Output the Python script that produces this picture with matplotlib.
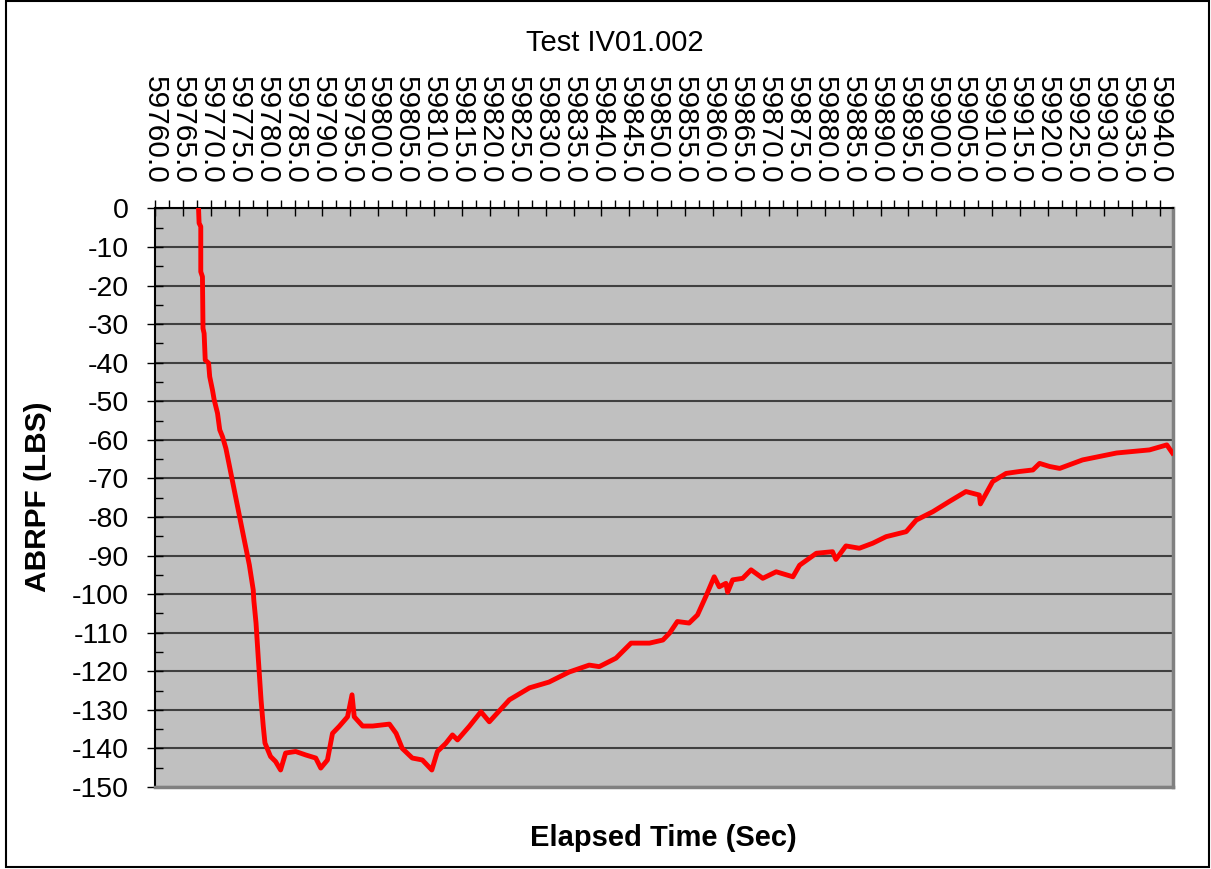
import matplotlib
matplotlib.use("Agg")
import matplotlib.pyplot as plt
from matplotlib.ticker import MultipleLocator, FormatStrFormatter
from matplotlib.patches import Rectangle

plt.rcParams['font.family'] = ['Liberation Sans', 'DejaVu Sans']
plt.rcParams['axes.unicode_minus'] = False

# elapsed time (sec) and ABRPF (lbs)
elapsed = [59767.8, 59767.9, 59768.2, 59768.2, 59768.5, 59768.6, 59768.8, 59769.0,
           59769.6, 59769.8, 59770.3, 59770.6, 59771.2, 59771.6, 59772.1, 59772.7,
           59773.3, 59774.2, 59775.1, 59776.0, 59776.9, 59777.6, 59777.7, 59778.1,
           59778.5, 59779.0, 59779.4, 59779.7, 59780.7, 59781.6, 59782.5, 59783.4,
           59785.2, 59787.0, 59788.8, 59789.7, 59790.9, 59791.8, 59793.0, 59794.5,
           59795.3, 59795.7, 59797.2, 59799.0, 59802.0, 59803.2, 59804.3, 59806.1,
           59807.9, 59809.6, 59810.6, 59812.1, 59813.3, 59814.2, 59816.3, 59818.4,
           59819.9, 59823.5, 59827.1, 59830.6, 59834.2, 59837.8, 59839.6, 59842.6,
           59845.3, 59848.6, 59851.0, 59852.2, 59853.6, 59855.7, 59857.2, 59858.7,
           59860.2, 59861.1, 59862.3, 59862.6, 59863.5, 59865.3, 59866.8, 59868.9,
           59871.3, 59874.3, 59875.5, 59878.5, 59881.4, 59882.0, 59883.8, 59886.2,
           59888.6, 59891.0, 59894.6, 59896.4, 59899.4, 59902.3, 59905.3, 59907.7,
           59907.9, 59910.1, 59912.5, 59914.9, 59917.3, 59918.5, 59920.3, 59922.1,
           59926.2, 59932.3, 59938.2, 59941.3, 59942.3]
abrpf = [0.0, -3.8, -4.7, -16.4, -17.7, -31.1, -32.4, -39.3,
         -40.1, -43.6, -47.1, -49.6, -53.1, -57.4, -59.2, -62.2,
         -66.5, -73.0, -79.5, -86.0, -92.4, -98.9, -101.5, -107.5,
         -116.5, -127.4, -134.3, -138.6, -142.1, -143.4, -145.6, -141.2,
         -140.8, -141.7, -142.5, -145.1, -143.0, -136.1, -134.3, -131.8,
         -126.1, -131.8, -134.2, -134.2, -133.7, -136.1, -140.0, -142.5,
         -143.0, -145.6, -140.8, -138.7, -136.5, -137.8, -134.3, -130.5,
         -133.1, -127.4, -124.3, -122.8, -120.2, -118.4, -118.8, -116.6,
         -112.7, -112.7, -111.9, -110.1, -107.1, -107.5, -105.4, -100.6,
         -95.5, -98.1, -97.2, -99.5, -96.3, -95.9, -93.7, -95.9,
         -94.2, -95.5, -92.5, -89.4, -89.0, -91.0, -87.5, -88.1,
         -86.8, -85.1, -83.8, -80.8, -78.6, -76.0, -73.4, -74.3,
         -76.6, -70.8, -68.7, -68.2, -67.8, -66.1, -66.9, -67.4,
         -65.2, -63.4, -62.6, -61.3, -63.4]

fig = plt.figure(figsize=(12.11, 8.69), dpi=100)
ax = fig.add_axes([0.128, 0.0944, 0.8406, 0.6657])
ax.set_facecolor('#c0c0c0')

ax.plot(elapsed, abrpf, color='#ff0000', linewidth=3.5, zorder=3)

ax.set_xlim(59760, 59942.4)
ax.set_ylim(-150, 0)

# x axis on top, Excel style
ax.xaxis.tick_top()
ax.xaxis.set_major_locator(MultipleLocator(5))
ax.xaxis.set_minor_locator(MultipleLocator(2.5))
ax.xaxis.set_major_formatter(FormatStrFormatter('%.1f'))
ax.tick_params(axis='x', which='major', direction='inout', length=12, width=1,
               labelsize=21.5, pad=12, labelrotation=-90)
ax.tick_params(axis='x', which='minor', direction='out', length=6, width=1)
for lab in ax.get_xticklabels():
    lab.set_va('bottom')

ax.yaxis.set_major_locator(MultipleLocator(10))
ax.yaxis.set_minor_locator(MultipleLocator(5))
ax.tick_params(axis='y', which='major', direction='inout', length=12, width=1,
               labelsize=20.5, pad=13)
ax.tick_params(axis='y', which='minor', direction='in', length=6, width=1)

ax.grid(axis='y', which='major', color='#404040', linewidth=1.5, zorder=1)
ax.set_axisbelow(True)

ax.spines['left'].set_color('black')
ax.spines['left'].set_linewidth(1.5)
ax.spines['top'].set_color('black')
ax.spines['top'].set_linewidth(1.5)
ax.spines['right'].set_color('#808080')
ax.spines['right'].set_linewidth(2.5)
ax.spines['bottom'].set_color('#808080')
ax.spines['bottom'].set_linewidth(2.5)

fig.text(0.508, 0.9505, 'Test IV01.002', fontsize=21, ha='center', va='center')
fig.text(0.0314, 0.428, 'ABRPF (LBS)', fontsize=21.5, fontweight='bold',
         rotation=90, ha='center', va='center')
fig.text(0.548, 0.0357, 'Elapsed Time (Sec)', fontsize=21, fontweight='bold',
         ha='center', va='center')

# chart area border
fig.patches.append(Rectangle((0.005, 0.0023), 0.9934, 0.9965, transform=fig.transFigure,
                             fill=False, edgecolor='black', linewidth=1.5))

fig.savefig('out.png', dpi=100)
